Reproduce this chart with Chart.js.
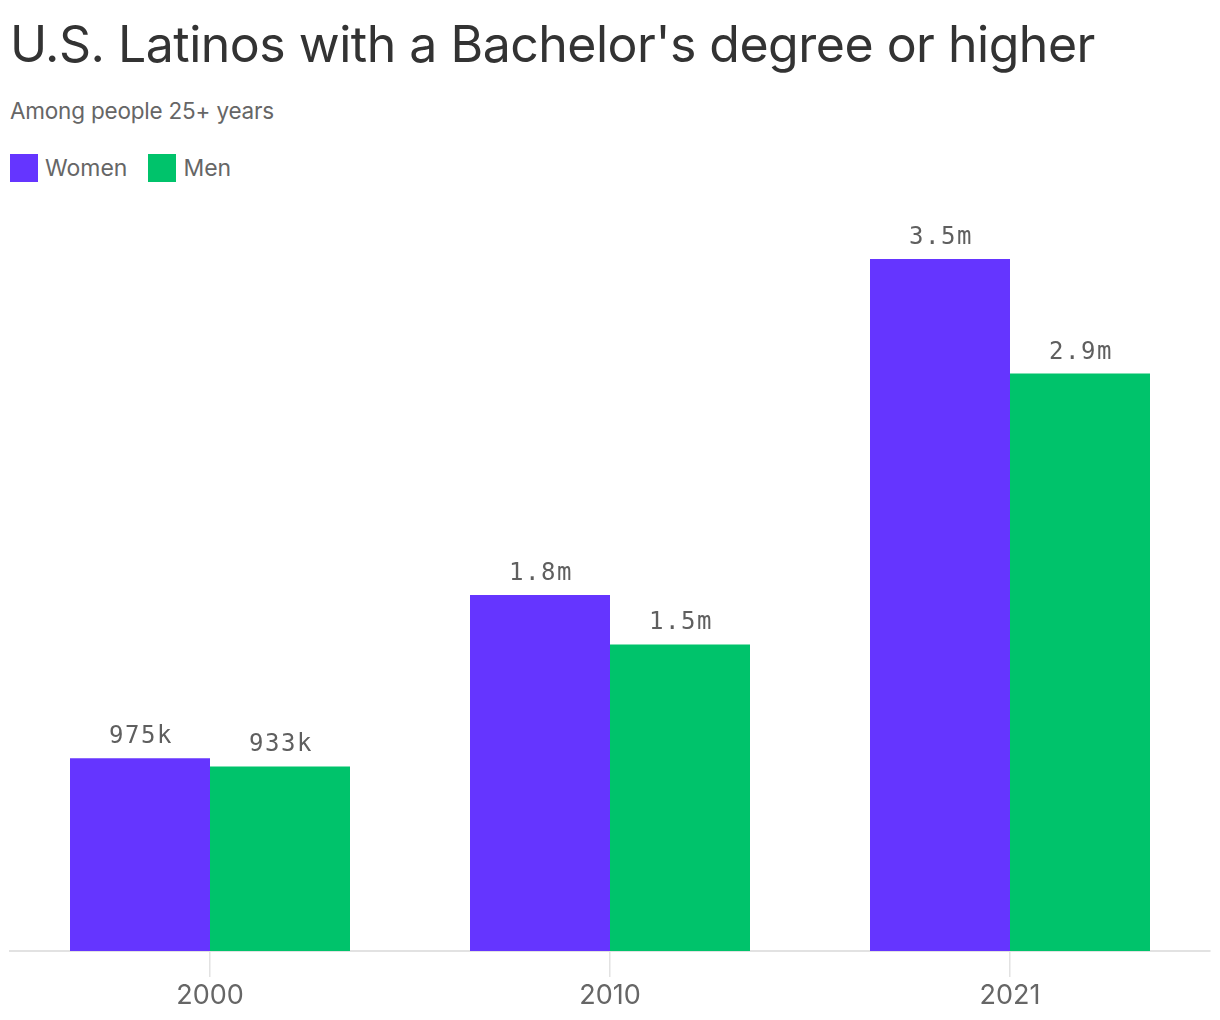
<!DOCTYPE html>
<html>
<head>
<meta charset="utf-8">
<script src="https://cdn.jsdelivr.net/npm/chart.js@4.4.1/dist/chart.umd.min.js"></script>
<style>
  html, body { margin: 0; padding: 0; background: #fff; }
  body { width: 1220px; height: 1020px; position: relative; overflow: hidden; font-family: Inter, 'Noto Sans', sans-serif; }
  #title { position: absolute; left: 10px; top: 14px; font-size: 50px; color: #333; letter-spacing: -0.5px; white-space: nowrap; }
  #subtitle { position: absolute; left: 10px; top: 97px; font-size: 22.5px; color: #666; white-space: nowrap; letter-spacing: -0.2px; }
  #legend { position: absolute; left: 10px; top: 154px; display: flex; font-size: 23px; color: #666; }
  .item { display: flex; align-items: center; margin-right: 21px; }
  .swatch { width: 28px; height: 28px; margin-right: 7px; }
  #wrap { position: absolute; left: 0; top: 160px; width: 1220px; height: 860px; }
</style>
</head>
<body>
<div id="title">U.S. Latinos with a Bachelor's degree or higher</div>
<div id="subtitle">Among people 25+ years</div>
<div id="legend"></div>
<div id="wrap"><canvas id="chart"></canvas></div>
<script>
const years = ['2000', '2010', '2021'];
const women = [975000, 1800000, 3500000];
const men = [933000, 1550000, 2920000];
const womenLabels = ['975k', '1.8m', '3.5m'];
const menLabels = ['933k', '1.5m', '2.9m'];

const PURPLE = '#6535ff';
const GREEN = '#00c36b';

document.getElementById('legend').innerHTML = [
  ['Women', PURPLE],
  ['Men', GREEN],
]
  .map(
    ([name, color]) =>
      `<div class="item"><div class="swatch" style="background:${color}"></div>${name}</div>`
  )
  .join('');

// value labels above each bar
const barLabels = {
  id: 'barLabels',
  afterDatasetsDraw(chart) {
    const ctx = chart.ctx;
    ctx.save();
    ctx.font = '24px "DejaVu Sans Mono", monospace';
    ctx.fillStyle = '#5f5f5f';
    ctx.textAlign = 'center';
    ctx.textBaseline = 'alphabetic';
    ctx.letterSpacing = '1.6px';
    chart.data.datasets.forEach((ds, i) => {
      chart.getDatasetMeta(i).data.forEach((bar, j) => {
        ctx.fillText(ds.valueLabels[j], bar.x + 1, bar.y - 15);
      });
    });
    ctx.restore();
  },
};

new Chart(document.getElementById('chart'), {
  type: 'bar',
  data: {
    labels: years,
    datasets: [
      {
        label: 'Women',
        data: women,
        valueLabels: womenLabels,
        backgroundColor: PURPLE,
        categoryPercentage: 0.7,
        barPercentage: 1,
      },
      {
        label: 'Men',
        data: men,
        valueLabels: menLabels,
        backgroundColor: GREEN,
        categoryPercentage: 0.7,
        barPercentage: 1,
      },
    ],
  },
  options: {
    responsive: true,
    maintainAspectRatio: false,
    animation: false,
    layout: { padding: { left: 10, right: 10, top: 0, bottom: 0 } },
    scales: {
      x: {
        afterFit: (scale) => {
          scale.height = 69;
        },
        grid: {
          offset: false,
          drawOnChartArea: false,
          drawTicks: true,
          tickLength: 26,
          color: '#e2e2e2',
          lineWidth: 1.5,
        },
        border: { display: true, color: '#e2e2e2', width: 2 },
        ticks: {
          padding: 3,
          color: '#666',
          font: { family: 'Inter, sans-serif', size: 27 },
        },
      },
      y: {
        display: false,
        min: 0,
        max: 4000000,
      },
    },
    plugins: {
      legend: { display: false },
      tooltip: { enabled: false },
    },
  },
  plugins: [barLabels],
});
</script>
</body>
</html>
